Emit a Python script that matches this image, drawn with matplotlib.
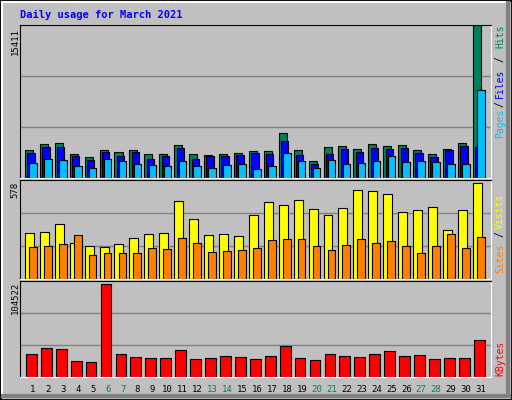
import matplotlib
matplotlib.use("Agg")
import matplotlib.pyplot as plt
from matplotlib.patches import Rectangle
import numpy as np

days = list(range(1, 32))
weekend = [6, 7, 13, 14, 20, 21, 27, 28]

hits = [2777, 3387, 3489, 2371, 2100, 2777, 2574, 2777, 2371, 2371, 3285, 2371, 2269, 2371, 2473, 2676,
        2676, 4505, 2777, 1761, 3082, 3184, 2879, 3387, 3184, 3285, 2777, 2371, 2879, 3489, 15411]
files = [2473, 3082, 3082, 2168, 1863, 2574, 2168, 2574, 1964, 2168, 2981, 1964, 2168, 2168, 2269, 2473,
         2371, 3692, 2269, 1456, 2371, 2879, 2574, 2981, 2879, 2981, 2473, 2066, 2777, 3184, 3116]
pages = [1558, 1964, 1863, 1253, 1050, 1964, 1761, 1456, 1355, 1253, 1761, 1253, 1050, 1355, 1456, 948,
         1253, 2473, 1761, 1050, 1863, 1456, 1558, 1761, 2168, 1660, 1761, 1660, 1456, 1456, 8874]
visits = [268, 274, 322, 213, 195, 189, 207, 238, 262, 268, 455, 352, 256, 262, 250, 371,
          449, 431, 461, 407, 371, 413, 522, 516, 497, 389, 401, 419, 286, 401, 558]
sites = [189, 195, 207, 256, 141, 153, 153, 153, 183, 177, 238, 213, 159, 165, 171, 183,
         226, 232, 232, 195, 171, 201, 232, 213, 220, 195, 153, 195, 262, 183, 244]
kbytes = [24656, 31280, 30176, 16928, 15824, 100832, 24656, 21344, 20240, 20240, 29072, 19136, 20240,
          22448, 21344, 19136, 22448, 33488, 20240, 18032, 24656, 22448, 21344, 24656, 27968, 22448,
          23552, 19136, 20240, 20240, 40112]

max_hits, max_visits, max_kb = 15411, 578, 104522

W, H = 512, 400
BG = "#C0C0C0"
MONO = "DejaVu Sans Mono"
fig = plt.figure(figsize=(W / 100, H / 100), dpi=100, facecolor=BG)


def fx(px):
    return px / W


def fy(py):
    return 1 - py / H


# outer frame with bevel
fig.patches.append(Rectangle((0, 0), 1, 1, transform=fig.transFigure, fill=False, ec="black", lw=2))
fig.add_artist(plt.Line2D([fx(2), fx(509)], [fy(2), fy(2)], color="white", lw=1.5))
fig.add_artist(plt.Line2D([fx(2), fx(2)], [fy(2), fy(397)], color="white", lw=1.5))
fig.add_artist(plt.Line2D([fx(3), fx(509)], [fy(396), fy(396)], color="#808080", lw=3))
fig.add_artist(plt.Line2D([fx(508), fx(508)], [fy(3), fy(396)], color="#808080", lw=3))

fig.text(fx(20), fy(15), "Daily usage for March 2021", color="#0000FF", family=MONO,
         weight="bold", fontsize=7.5, va="center", ha="left")

x = np.array(days)
x0, x1 = 0.13, 31.68


def panel(top, bottom, ymax):
    ax = fig.add_axes([fx(20), fy(bottom), fx(491) - fx(20), fy(top) - fy(bottom)])
    ax.set_facecolor(BG)
    ax.set_xlim(x0, x1)
    ax.set_ylim(0, ymax)
    for g in (ymax / 3, 2 * ymax / 3):
        ax.axhline(g, color="#808080", lw=1, zorder=0)
    ax.set_xticks([])
    ax.set_yticks([])
    ax.spines["left"].set_color("black")
    ax.spines["top"].set_color("black")
    ax.spines["right"].set_color("white")
    ax.spines["bottom"].set_color("white")
    return ax


ekw = dict(edgecolor="black", linewidth=0.8, align="edge")

ax1 = panel(25, 178, max_hits)
ax1.bar(x - 0.54, hits, width=0.54, color="#00805C", **ekw)
ax1.bar(x - 0.38, files, width=0.49, color="#0000FF", **ekw)
ax1.bar(x - 0.25, pages, width=0.5, color="#00C0FF", **ekw)

ax2 = panel(180, 279, max_visits)
ax2.bar(x - 0.54, visits, width=0.6, color="#FFFF00", **ekw)
ax2.bar(x - 0.27, sites, width=0.52, color="#FF8000", **ekw)

ax3 = panel(281, 377, max_kb)
ax3.bar(x - 0.47, kbytes, width=0.72, color="#FF0000", **ekw)

# day labels
for d in days:
    col = "#00805C" if d in weekend else "black"
    xp = 33 + (d - 1) * 14.93
    fig.text(fx(xp), fy(389), str(d), color=col, family=MONO, fontsize=6.5, ha="center", va="center")

# left max labels
for txt, top in (("15411", 28), ("578", 182), ("104522", 282)):
    fig.text(fx(15), fy(top), txt, rotation=90, family=MONO, fontsize=6.5, ha="center", va="top")

# right legends (bottom to top)
legend_parts = [
    [("Pages", "#00C0FF", 123), ("/", "black", 104), ("Files", "#0000FF", 83), ("/", "black", 59), ("Hits", "#00805C", 36)],
    [("Sites", "#FF8000", 258), ("/", "black", 234), ("Visits", "#FFFF00", 211)],
    [("KBytes", "#FF0000", 358)],
]
for parts in legend_parts:
    for txt, col, yc in parts:
        fig.text(fx(500), fy(yc), txt, rotation=90, color=col, family=MONO, fontsize=7,
                 ha="center", va="center")

fig.savefig("out.png", dpi=100, facecolor=BG)
